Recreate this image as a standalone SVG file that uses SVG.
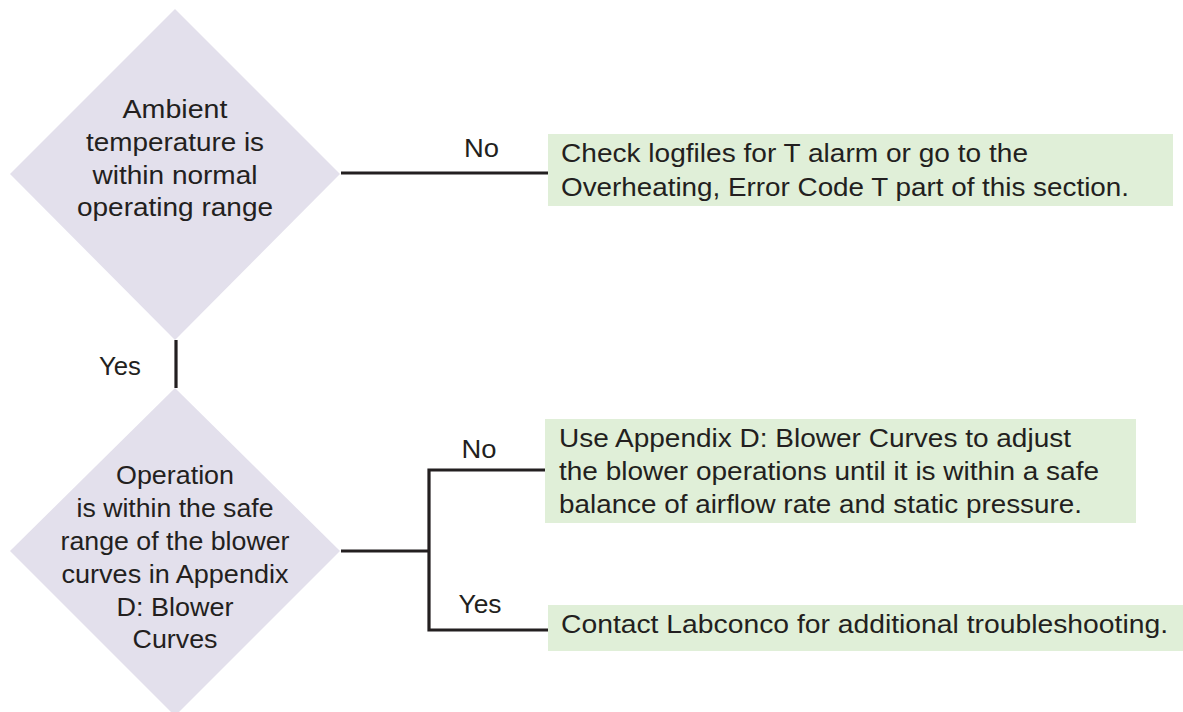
<svg xmlns="http://www.w3.org/2000/svg" width="1183" height="712" viewBox="0 0 1183 712">
<style>
.d{fill:#e3e0ec;}
.b{fill:#e0efd8;}
.t{font-family:"Liberation Sans",Arial,sans-serif;font-size:26px;fill:#231f20;}
.c{text-anchor:middle;}
.ln{stroke:#231f20;stroke-width:3.2;fill:none;}
</style>
<rect width="1183" height="712" fill="#ffffff"/>
<g id="d1">
<polygon class="d" points="175,9 340,174 175,340 10,174"/>
<text class="t c" x="175" y="118" textLength="105" lengthAdjust="spacingAndGlyphs">Ambient</text>
<text class="t c" x="175" y="151" textLength="178" lengthAdjust="spacingAndGlyphs">temperature is</text>
<text class="t c" x="175" y="184" textLength="165" lengthAdjust="spacingAndGlyphs">within normal</text>
<text class="t c" x="175" y="216" textLength="196" lengthAdjust="spacingAndGlyphs">operating range</text>
</g>
<g id="d2">
<polygon class="d" points="175,388 340,551 175,716 10,551"/>
<text class="t c" x="175" y="484" textLength="118" lengthAdjust="spacingAndGlyphs">Operation</text>
<text class="t c" x="175" y="517" textLength="197" lengthAdjust="spacingAndGlyphs">is within the safe</text>
<text class="t c" x="175" y="550" textLength="229" lengthAdjust="spacingAndGlyphs">range of the blower</text>
<text class="t c" x="175" y="583" textLength="227" lengthAdjust="spacingAndGlyphs">curves in Appendix</text>
<text class="t c" x="175" y="616" textLength="117" lengthAdjust="spacingAndGlyphs">D: Blower</text>
<text class="t c" x="175" y="648" textLength="85" lengthAdjust="spacingAndGlyphs">Curves</text>
</g>
<g id="b1">
<rect class="b" x="548" y="134" width="625" height="72"/>
<text class="t" x="561" y="162" textLength="467" lengthAdjust="spacingAndGlyphs">Check logfiles for T alarm or go to the</text>
<text class="t" x="561" y="196" textLength="568" lengthAdjust="spacingAndGlyphs">Overheating, Error Code T part of this section.</text>
</g>
<g id="b2">
<rect class="b" x="545" y="419" width="591" height="104"/>
<text class="t" x="559" y="447" textLength="512" lengthAdjust="spacingAndGlyphs">Use Appendix D: Blower Curves to adjust</text>
<text class="t" x="559" y="480" textLength="540" lengthAdjust="spacingAndGlyphs">the blower operations until it is within a safe</text>
<text class="t" x="559" y="513" textLength="523" lengthAdjust="spacingAndGlyphs">balance of airflow rate and static pressure.</text>
</g>
<g id="b3">
<rect class="b" x="548" y="605" width="635" height="46"/>
<text class="t" x="561" y="633" textLength="607" lengthAdjust="spacingAndGlyphs">Contact Labconco for additional troubleshooting.</text>
</g>
<g id="connectors">
<line class="ln" x1="341" y1="173" x2="548" y2="173"/>
<line class="ln" x1="176" y1="340" x2="176" y2="388"/>
<line class="ln" x1="341" y1="551" x2="429" y2="551"/>
<polyline class="ln" points="545,470 429,470 429,630 548,630"/>
<text class="t c" x="481.5" y="157" textLength="35" lengthAdjust="spacingAndGlyphs">No</text>
<text class="t c" x="120" y="375" textLength="42" lengthAdjust="spacingAndGlyphs">Yes</text>
<text class="t c" x="479" y="458" textLength="35" lengthAdjust="spacingAndGlyphs">No</text>
<text class="t c" x="480" y="613" textLength="43" lengthAdjust="spacingAndGlyphs">Yes</text>
</g>
</svg>
